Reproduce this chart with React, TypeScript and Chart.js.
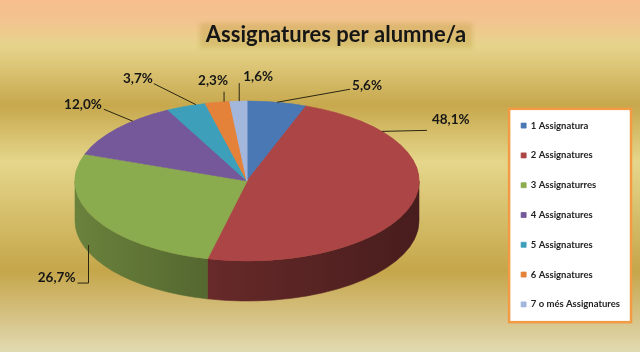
import React, { useEffect, useRef } from 'react';
import { Chart, registerables } from 'chart.js';

Chart.register(...registerables);

// ---------- data ----------
const chartTitle = 'Assignatures per alumne/a';
const categories = [
  '1 Assignatura',
  '2 Assignatures',
  '3 Assignaturres',
  '4 Assignatures',
  '5 Assignatures',
  '6 Assignatures',
  '7 o més Assignatures',
];
const shares = [5.6, 48.1, 26.7, 12.0, 3.7, 2.3, 1.6];
const sliceColors = ['#4A78B4', '#AC4545', '#8BAB4F', '#74589A', '#3D9FBA', '#E5823A', '#A3B6DC'];

// ---------- layout (not data) ----------
const PIE = { cx: 247, cy: 181, rx: 172, ry: 80, depth: 40 };
const TITLE_POS = { x: 336, y: 42 };
// t: where along the slice the leader starts, drop: px down the side wall,
// path: leader segments (relative), text: offset from leader end
const LABEL_LAYOUT = [
  { t: 0.5, drop: 0, path: [[73, -13]], align: 'left', text: [2, -4] },
  { t: 0.182, drop: 0, path: [[45, -1]], align: 'left', text: [5, -11] },
  { t: 0.56, drop: 33, path: [[0, 38], [-11, 0]], align: 'right', text: [-2, -5] },
  { t: 0.67, drop: 0, path: [[-29, -12]], align: 'right', text: [-2, -5] },
  { t: 0.755, drop: 0, path: [[-42, -21]], align: 'right', text: [-1, -5] },
  { t: 0.77, drop: 0, path: [[0, -10]], align: 'center', text: [-11, -11] },
  { t: 0.55, drop: 0, path: [[0, -18]], align: 'left', text: [4, -6] },
];

function shade(hex: string, f: number): string {
  const n = parseInt(hex.slice(1), 16);
  const r = Math.round(((n >> 16) & 255) * f);
  const g = Math.round(((n >> 8) & 255) * f);
  const b = Math.round((n & 255) * f);
  return `rgb(${r},${g},${b})`;
}

const backdropPlugin = {
  id: 'backdrop',
  beforeDraw(chart: any) {
    const { ctx, width, height } = chart;
    ctx.save();
    const g = ctx.createLinearGradient(0, 0, 0, height);
    g.addColorStop(0, '#F7BD8D');
    g.addColorStop(0.06, '#F3C48F');
    g.addColorStop(0.13, '#E6D48B');
    g.addColorStop(0.3, '#C7A84D');
    g.addColorStop(0.46, '#E5D68B');
    g.addColorStop(0.77, '#C5A64A');
    g.addColorStop(0.9, '#D6C285');
    g.addColorStop(1, '#E2DBB2');
    ctx.fillStyle = g;
    ctx.fillRect(0, 0, width, height);

    // title highlight + title
    ctx.font = 'bold 22px Lato';
    const w = ctx.measureText(chartTitle).width;
    ctx.filter = 'blur(2px)';
    ctx.fillStyle = 'rgba(175,140,40,0.28)';
    ctx.fillRect(TITLE_POS.x - w / 2 - 6, 23, w + 12, 25);
    ctx.filter = 'none';
    ctx.fillStyle = '#161616';
    ctx.textAlign = 'center';
    ctx.textBaseline = 'alphabetic';
    ctx.fillText(chartTitle, TITLE_POS.x, TITLE_POS.y);

    // legend frame
    const hb = chart.legend && chart.legend.legendHitBoxes;
    if (hb && hb.length) {
      let l = Infinity, r = -Infinity, t = Infinity, b = -Infinity;
      hb.forEach((h: any) => {
        l = Math.min(l, h.left);
        r = Math.max(r, h.left + h.width);
        t = Math.min(t, h.top);
        b = Math.max(b, h.top + h.height);
      });
      const x0 = l - 12, x1 = r + 11, y0 = t - 12, y1 = b + 13;
      ctx.fillStyle = '#FFFFFF';
      ctx.fillRect(x0, y0, x1 - x0, y1 - y0);
      ctx.strokeStyle = '#F39A45';
      ctx.lineWidth = 2.5;
      ctx.strokeRect(x0, y0, x1 - x0, y1 - y0);
    }
    ctx.restore();
  },
};

const pie3dPlugin = {
  id: 'pie3d',
  beforeDatasetsDraw(chart: any) {
    const meta = chart.getDatasetMeta(0);
    const arcs = meta.data;
    const { ctx } = chart;
    ctx.save();
    if (!arcs.length) return;
    const { cx, cy, rx, ry, depth } = PIE;
    // side walls (front half only)
    arcs.forEach((arc: any, i: number) => {
      const { startAngle, endAngle } = arc.getProps(['startAngle', 'endAngle'], true);
      const color = sliceColors[i % sliceColors.length];
      for (let k = -1; k <= 1; k++) {
        const lo = Math.max(startAngle, 2 * Math.PI * k);
        const hi = Math.min(endAngle, 2 * Math.PI * k + Math.PI);
        if (hi <= lo) continue;
        const g = ctx.createLinearGradient(cx - rx, 0, cx + rx, 0);
        g.addColorStop(0, shade(color, 0.76));
        g.addColorStop(0.45, shade(color, 0.58));
        g.addColorStop(1, shade(color, 0.42));
        ctx.beginPath();
        ctx.ellipse(cx, cy, rx, ry, 0, lo, hi, false);
        ctx.ellipse(cx, cy + depth, rx, ry, 0, hi, lo, true);
        ctx.closePath();
        ctx.fillStyle = g;
        ctx.fill();
        ctx.strokeStyle = g;
        ctx.lineWidth = 0.6;
        ctx.stroke();
      }
    });
    // squash the library's circular pie into the top ellipse
    const { x, y, outerRadius } = arcs[0].getProps(['x', 'y', 'outerRadius'], true);
    ctx.translate(cx, cy);
    ctx.scale(rx / outerRadius, ry / outerRadius);
    ctx.translate(-x, -y);
  },
  afterDatasetsDraw(chart: any) {
    const { ctx } = chart;
    ctx.restore();
    const meta = chart.getDatasetMeta(0);
    const arcs = meta.data;
    const data = chart.data.datasets[0].data as number[];
    const total = data.reduce((a, b) => a + b, 0);
    const { cx, cy, rx, ry } = PIE;
    ctx.save();
    ctx.font = 'bold 13.5px Lato';
    ctx.textBaseline = 'middle';
    arcs.forEach((arc: any, i: number) => {
      const lay = LABEL_LAYOUT[i];
      if (!lay) return;
      const { startAngle, endAngle } = arc.getProps(['startAngle', 'endAngle'], true);
      const a = startAngle + lay.t * (endAngle - startAngle);
      let px = cx + rx * Math.cos(a);
      let py = cy + ry * Math.sin(a) + lay.drop;
      ctx.beginPath();
      ctx.moveTo(px, py);
      lay.path.forEach(([dx, dy]) => {
        px += dx;
        py += dy;
        ctx.lineTo(px, py);
      });
      ctx.strokeStyle = '#2b2610';
      ctx.lineWidth = 1;
      ctx.stroke();
      const pct = ((data[i] / total) * 100).toFixed(1).replace('.', ',') + '%';
      ctx.fillStyle = '#161616';
      ctx.textAlign = lay.align as CanvasTextAlign;
      ctx.fillText(pct, px + lay.text[0], py + lay.text[1]);
    });
    ctx.restore();
  },
};

export default function App() {
  const ref = useRef<HTMLCanvasElement>(null);
  useEffect(() => {
    if (!ref.current) return;
    const chart = new Chart(ref.current, {
      type: 'pie',
      data: {
        labels: categories,
        datasets: [
          {
            data: shares,
            backgroundColor: sliceColors,
            borderColor: sliceColors,
            borderWidth: 0.8,
          },
        ],
      },
      options: {
        responsive: false,
        animation: false,
        layout: { padding: { top: 80, bottom: 2, left: 0, right: 10 } },
        plugins: {
          legend: {
            position: 'right',
            labels: {
              boxWidth: 5,
              boxHeight: 5,
              padding: 20.3,
              color: '#222222',
              font: { family: 'Lato', size: 9.5, weight: 'bold' },
            },
          },
          tooltip: { enabled: false },
          title: { display: false },
        },
      },
      plugins: [backdropPlugin, pie3dPlugin],
    });
    return () => chart.destroy();
  }, []);
  return (
    <div style={{ position: 'fixed', left: 0, top: 0, width: 640, height: 352 }}>
      <canvas ref={ref} width={640} height={352} style={{ display: 'block', width: 640, height: 352 }} />
    </div>
  );
}
